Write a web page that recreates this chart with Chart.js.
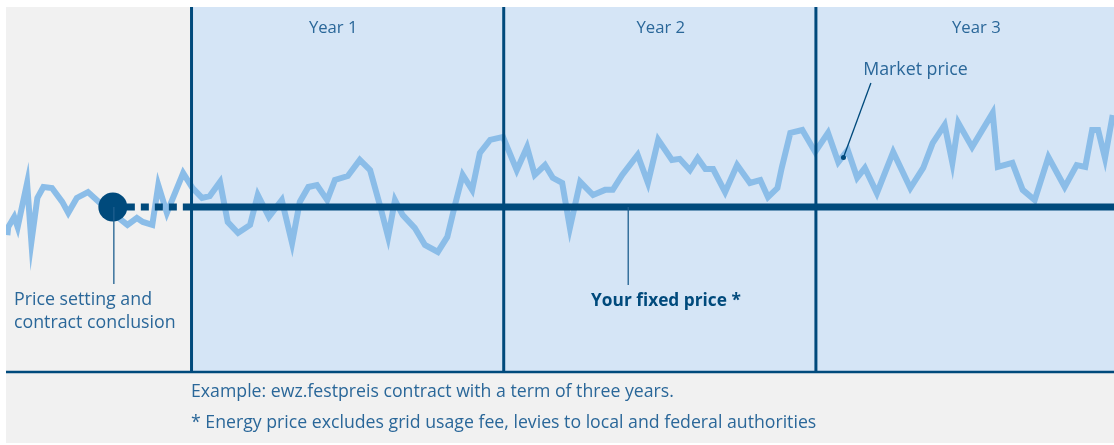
<!DOCTYPE html>
<html>
<head>
<meta charset="utf-8">
<script src="https://cdn.jsdelivr.net/npm/chart.js@4"></script>
<style>
  html, body { margin:0; padding:0; background:#fff; }
  #wrap { width:1114px; height:445px; }
</style>
</head>
<body>
<div id="wrap"><canvas id="price-plot" width="1114" height="445"></canvas></div>
<script>
'use strict';

// x = days relative to contract start (year 1 begins at day 0)
const marketDays = [
  -213, -212, -205, -201, -190, -185, -178, -171, -161, -149, -142, -132, -119, -105,
  -73, -62, -55, -44, -37, -27, -8, 3, 14, 23, 35, 44, 56, 70, 79, 92, 107, 119, 128,
  138, 148, 160, 169, 184, 198, 210, 222, 231, 239, 248, 262, 274, 289, 300, 309, 318,
  329, 338, 350, 365, 381, 393, 402, 414, 423, 434, 443, 455, 470, 484, 493, 504, 522,
  534, 546, 562, 571, 583, 592, 601, 610, 624, 638, 653, 665, 674, 685, 690, 700, 714,
  729, 744, 756, 767, 778, 787, 801, 820, 840, 855, 866, 880, 889, 896, 912, 936, 942,
  959, 971, 985, 1001, 1020, 1034, 1044, 1052, 1059, 1067, 1076
];
const marketPrice = [
  37.5, 39.7, 42.5, 39.7, 51.8, 35.6, 47.7, 50.7, 50.4, 46.6, 43.6, 47.7, 49.3, 46.3,
  40.3, 42.2, 41.1, 40.3, 51.2, 43.6, 54.5, 50.4, 47.7, 48.2, 52.1, 41.1, 38.1, 40.3, 48.5,
  42.5, 47.1, 35.3, 46.6, 50.7, 51.2, 47.1, 52.6, 53.7, 58.1, 55.3, 45.2, 37.0, 47.1, 43.0,
  39.5, 34.8, 32.9, 37.0, 45.8, 54.0, 49.9, 60.0, 63.6, 64.4, 55.3, 61.6, 54.0, 56.7, 53.2,
  51.8, 39.5, 52.1, 48.5, 49.9, 49.9, 54.0, 59.5, 51.8, 63.6, 58.1, 58.4, 55.3, 58.6, 55.6,
  55.6, 49.3, 56.7, 51.8, 52.6, 47.9, 50.4, 55.9, 65.5, 66.3, 60.3, 65.5, 57.5, 60.8, 53.2,
  55.9, 49.0, 60.3, 50.4, 55.9, 62.7, 67.7, 57.3, 68.2, 61.6, 71.0, 56.2, 57.3, 49.9, 47.1,
  58.9, 50.7, 56.7, 56.2, 66.3, 66.3, 58.6, 70.4
];
const fixedPrice = 45.2;
const contractDay = -90;
const dayMin = -214.6;
const dayMax = 1077.5;
const yearStarts = [0, 365, 730];
const yearLabels = ['Year 1', 'Year 2', 'Year 3'];
const yearLabelDays = [167, 549, 917];
const notes = [
  'Example: ewz.festpreis contract with a term of three years.',
  '* Energy price excludes grid usage fee, levies to local and federal authorities'
];

const DARK = '#004a7c';
const TEXT = '#2a6799';
const FONT = '"Open Sans", "Liberation Sans", sans-serif';

function priceAt(day){
  for(let i = 1; i < marketDays.length; i++){
    if(marketDays[i] >= day){
      const t = (day - marketDays[i-1]) / (marketDays[i] - marketDays[i-1]);
      return marketPrice[i-1] + t * (marketPrice[i] - marketPrice[i-1]);
    }
  }
  return marketPrice[marketPrice.length - 1];
}

const panels = {
  id:'panels',
  beforeDraw(chart){
    const {ctx, chartArea:a, scales:{x}} = chart;
    const x0 = x.getPixelForValue(0);
    ctx.save();
    ctx.fillStyle = '#f1f1f1';
    ctx.fillRect(a.left, a.top, a.right - a.left, chart.height - 2 - a.top);
    ctx.fillStyle = '#d5e5f6';
    ctx.fillRect(x0, a.top, a.right - x0, a.bottom - a.top);
    ctx.restore();
  },
  afterDatasetsDraw(chart){
    const {ctx, chartArea:a, scales:{x}} = chart;
    ctx.save();
    ctx.strokeStyle = DARK;
    ctx.lineWidth = 3;
    yearStarts.forEach((d, i)=>{
      const px = x.getPixelForValue(d) + 1.5 - i * 0.8;
      ctx.beginPath();
      ctx.moveTo(px, a.top);
      ctx.lineTo(px, a.bottom);
      ctx.stroke();
    });
    ctx.lineWidth = 2.5;
    ctx.beginPath();
    ctx.moveTo(a.left, a.bottom);
    ctx.lineTo(a.right, a.bottom);
    ctx.stroke();
    ctx.restore();
  },
  afterDraw(chart){
    const {ctx, chartArea:a, scales:{x, y}} = chart;
    const fy = y.getPixelForValue(fixedPrice);
    ctx.save();
    ctx.textBaseline = 'middle';

    // year headers
    ctx.fillStyle = TEXT;
    ctx.font = '16.7px ' + FONT;
    ctx.textAlign = 'center';
    yearLabels.forEach((lbl, i)=>{
      ctx.fillText(lbl, x.getPixelForValue(yearLabelDays[i]), a.top + 21);
    });

    // pointer lines
    ctx.strokeStyle = '#1f5f8f';
    ctx.lineWidth = 1.3;
    const cx = x.getPixelForValue(contractDay) + 1;
    ctx.beginPath();
    ctx.moveTo(cx, fy);
    ctx.lineTo(cx, 284);
    ctx.stroke();

    const fxp = x.getPixelForValue(511);
    ctx.beginPath();
    ctx.moveTo(fxp, fy);
    ctx.lineTo(fxp, 285);
    ctx.stroke();

    const mx = x.getPixelForValue(762);
    const my = y.getPixelForValue(priceAt(762)) + 2;
    ctx.strokeStyle = DARK;
    ctx.beginPath();
    ctx.moveTo(x.getPixelForValue(794), 83);
    ctx.lineTo(mx, my);
    ctx.stroke();
    ctx.fillStyle = DARK;
    ctx.beginPath();
    ctx.arc(mx, my, 2.5, 0, Math.PI * 2);
    ctx.fill();

    // labels
    ctx.fillStyle = TEXT;
    ctx.textAlign = 'left';
    ctx.font = '17.8px ' + FONT;
    ctx.fillText('Market price', x.getPixelForValue(785), 70);
    ctx.fillText('Price setting and', 14, 300);
    ctx.fillText('contract conclusion', 14, 323);

    ctx.fillStyle = DARK;
    ctx.font = 'bold 17.3px ' + FONT;
    ctx.textAlign = 'center';
    ctx.fillText('Your fixed price *', x.getPixelForValue(555), 301);

    ctx.fillStyle = TEXT;
    ctx.font = '17.7px ' + FONT;
    ctx.textAlign = 'left';
    notes.forEach((n, i)=>{
      ctx.fillText(n, x.getPixelForValue(0) + 1, 392 + i * 31);
    });
    ctx.restore();
  }
};

let chart = null;

function makePlot(){
  chart = new Chart(document.querySelector('#price-plot'), {
    type:'line',
    data:{
      datasets:[
        {
          label:'Your fixed price',
          data:[
            {x:contractDay, y:fixedPrice},
            {x:0, y:fixedPrice},
            {x:dayMax, y:fixedPrice}
          ],
          borderColor:DARK,
          borderWidth:7,
          pointRadius:(c)=>c.dataIndex === 0 ? 14.5 : 0,
          pointBackgroundColor:DARK,
          pointBorderWidth:0,
          segment:{
            borderDash:(c)=>c.p0.parsed.x < 0 ? [8, 6] : undefined
          },
          order:0
        },
        {
          label:'Market price',
          data:marketDays.map((d, i)=>({x:d, y:marketPrice[i]})),
          borderColor:'#8bbde8',
          borderWidth:6,
          borderJoinStyle:'miter',
          tension:0,
          pointRadius:0,
          order:1
        }
      ]
    },
    options:{
      responsive:false,
      animation:false,
      devicePixelRatio:1,
      layout:{autoPadding:false, padding:{left:6, top:7, right:0, bottom:73}},
      plugins:{legend:{display:false}, tooltip:{enabled:false}},
      scales:{
        x:{type:'linear', min:dayMin, max:dayMax, display:false},
        y:{min:0, max:100, display:false}
      }
    },
    plugins:[panels]
  });
}

window.addEventListener('load', ()=>{
  makePlot();
});
</script>
</body>
</html>
